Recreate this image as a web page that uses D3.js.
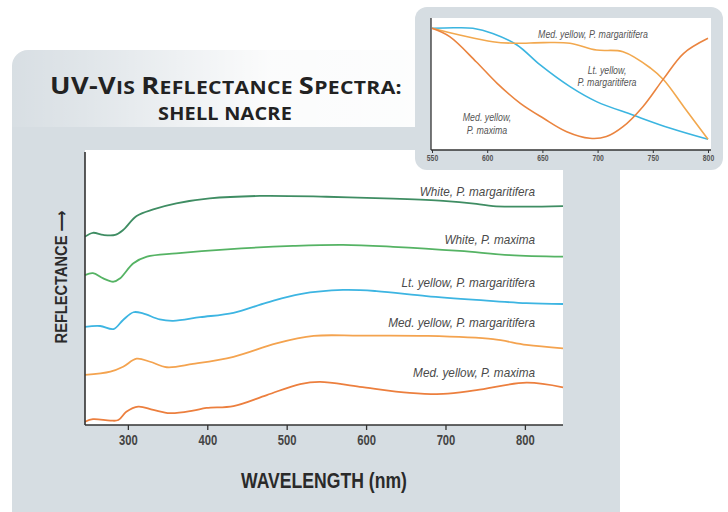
<!DOCTYPE html>
<html><head><meta charset="utf-8">
<script src="https://cdn.jsdelivr.net/npm/d3@7"></script>
<style>
html,body{margin:0;padding:0;background:#fff;}
svg{display:block;}
.narrow{font-family:"Liberation Sans",Arial,Helvetica,sans-serif;}
</style></head>
<body><svg id="c" width="728" height="512"></svg>
<script>
// ---- Main chart data (wavelength nm, relative reflectance, offset-stacked) ----
const seriesNames = ["White, P. margaritifera","White, P. maxima","Lt. yellow, P. margaritifera","Med. yellow, P. margaritifera","Med. yellow, P. maxima"];
const seriesColors = ["#3f8d63","#55b364","#3db5e2","#f4a34f","#ec7f3e"];
const whiteMargWl  = [246,256,269,284,294,311,332,361,403,466,550,634,697,739,760,802,848];
const whiteMargVal = [68.5,69.9,69.1,69.1,70.9,76.0,78.4,80.6,82.4,83.3,83.0,82.3,81.5,80.4,79.6,79.4,79.6];
const whiteMaxWl   = [246,256,269,282,290,307,324,361,425,508,571,634,718,781,848];
const whiteMaxVal  = [54.5,55.2,53.3,52.1,53.3,58.8,61.2,62.4,63.9,65.1,65.5,64.8,63.3,61.8,61.2];
const ltYelMargWl  = [246,265,282,294,307,319,340,357,391,433,475,517,571,613,676,739,802,848];
const ltYelMargVal = [35.7,36.0,34.9,38.2,41.0,40.6,38.4,37.9,39.2,40.8,44.5,47.6,49.1,48.7,46.9,45.5,44.3,44.0];
const medYelMargWl  = [246,278,294,311,328,349,382,433,487,534,592,676,760,802,848];
const medYelMargVal = [18.2,19.4,21.2,24.1,23.0,21.0,22.2,24.8,29.7,32.4,32.5,32.4,31.2,29.1,27.9];
const medYelMaxWl  = [246,256,278,288,298,313,332,353,382,399,433,475,517,542,592,655,697,739,802,848];
const medYelMaxVal = [1.2,2.1,1.6,1.8,4.8,6.7,5.5,4.3,5.2,6.2,6.9,10.9,14.9,15.7,13.9,11.7,11.3,12.7,15.4,13.7];
const xTicks = [300,400,500,600,700,800];

// ---- Inset data (normalized reflectance 550-800 nm) ----
const insetNames = ["Lt. yellow, P. margaritifera","Med. yellow, P. margaritifera","Med. yellow, P. maxima"];
const insetColors = ["#3bb5e0","#f2a84e","#ea843f"];
const insetLtWl  = [550,570,587,605,627,648,675,699,732,766,800];
const insetLtVal = [93.6,94.0,93.6,89.7,80.8,65.4,48.7,37.2,26.9,16.7,8.2];
const insetMedMargWl  = [550,575,605,624,651,675,699,723,748,760,778,800];
const insetMedMargVal = [93.6,88.5,83.3,82.1,82.6,82.1,76.9,75.6,63.0,53.8,33.3,8.2];
const insetMedMaxWl  = [550,566,590,609,630,651,672,693,708,723,741,760,778,800];
const insetMedMaxVal = [93.6,87.2,67.9,51.3,35.9,24.4,14.1,9.0,10.3,17.9,33.3,55.1,74.4,85.9];
const insetTicks = [550,600,650,700,750,800];

// title pieces: [text, isLargeCap]
const titleParts = [["UV-V",1],["IS ",0],["R",1],["EFLECTANCE ",0],["S",1],["PECTRA:",0]];
const subtitle = "SHELL NACRE";

const svg = d3.select("#c");
const defs = svg.append("defs");
const PANEL = "#d6dde2";

// horizontally condense a text to mimic a narrow typeface
function condense(sel, f){
  sel.each(function(){
    const w = this.getComputedTextLength();
    d3.select(this).attr("textLength", (w*f).toFixed(1)).attr("lengthAdjust","spacingAndGlyphs");
  });
  return sel;
}

// Main panel
svg.append("rect").attr("x",12).attr("y",50).attr("width",608).attr("height",480).attr("rx",16).attr("fill",PANEL);
const g1 = defs.append("linearGradient").attr("id","band").attr("x1","0").attr("x2","1").attr("y1","0").attr("y2","0");
g1.append("stop").attr("offset","0").attr("stop-color","#fff").attr("stop-opacity",0.05);
g1.append("stop").attr("offset","0.12").attr("stop-color","#fff").attr("stop-opacity",0.25);
g1.append("stop").attr("offset","0.42").attr("stop-color","#fff").attr("stop-opacity",0.9);
g1.append("stop").attr("offset","1").attr("stop-color","#fff").attr("stop-opacity",1);
defs.append("clipPath").attr("id","pclip").append("rect").attr("x",12).attr("y",50).attr("width",608).attr("height",480).attr("rx",16);
svg.append("rect").attr("x",12).attr("y",50).attr("width",608).attr("height",77).attr("fill","url(#band)").attr("clip-path","url(#pclip)");

// Title
const t1 = svg.append("text").attr("x",50).attr("y",94).attr("fill","#222")
  .style("font-family","'Open Sans', Lato, sans-serif").style("font-weight","700")
  .style("letter-spacing","0.3px");
titleParts.forEach(p=>{
  t1.append("tspan").style("font-size", p[1] ? "22.5px" : "17.5px").text(p[0]);
});
t1.attr("textLength",352).attr("lengthAdjust","spacingAndGlyphs");
const t2 = svg.append("text").attr("x",158).attr("y",119.5).attr("fill","#222")
  .style("font-family","'Open Sans', Lato, sans-serif").style("font-weight","700")
  .style("font-size","17.5px").style("letter-spacing","0.2px").text(subtitle);
t2.attr("textLength",134).attr("lengthAdjust","spacingAndGlyphs");

// Main plot
const L=85, R=563, T=150, B=425;
svg.append("rect").attr("x",L).attr("y",T).attr("width",R-L).attr("height",B-T).attr("fill","#fff");
const x = d3.scaleLinear().domain([246,848]).range([L,R]);
const y = d3.scaleLinear().domain([0,100]).range([B,T]);
const line = d3.line().curve(d3.curveCatmullRom.alpha(0.5)).x(d=>x(d[0])).y(d=>y(d[1]));
const mainSeries = [
  [whiteMargWl, whiteMargVal],[whiteMaxWl, whiteMaxVal],[ltYelMargWl, ltYelMargVal],
  [medYelMargWl, medYelMargVal],[medYelMaxWl, medYelMaxVal]];
mainSeries.forEach((s,i)=>{
  const pts = s[0].map((w,j)=>[w,s[1][j]]);
  svg.append("path").datum(pts).attr("d",line).attr("fill","none")
    .attr("stroke",seriesColors[i]).attr("stroke-width",1.8);
});
const labelY = [196,244,287,327,377];
seriesNames.forEach((n,i)=>{
  const t = svg.append("text").attr("class","narrow").attr("x",535).attr("y",labelY[i]).attr("text-anchor","end")
    .attr("fill","#4a4a4a").style("font-style","italic").style("font-size","13.5px").text(n);
  condense(t,0.87);
});
// axes
const xAxis = svg.append("g").attr("transform",`translate(0,${B})`)
  .call(d3.axisBottom(x).tickValues(xTicks).tickSize(5).tickPadding(5).tickFormat(d3.format("d")));
xAxis.select(".domain").remove();
xAxis.attr("font-family",null);
xAxis.selectAll("line").attr("stroke","#333").attr("stroke-width",1.3);
xAxis.selectAll("text").attr("class","narrow").attr("fill","#444").style("font-size","14px").style("font-weight","700");
condense(xAxis.selectAll("text"),0.8);
svg.append("line").attr("x1",L).attr("x2",R).attr("y1",B).attr("y2",B).attr("stroke","#333").attr("stroke-width",1.6);
svg.append("line").attr("x1",L).attr("x2",L).attr("y1",T+2).attr("y2",B).attr("stroke","#333").attr("stroke-width",1.6);
condense(svg.append("text").attr("class","narrow").attr("x",(L+R)/2).attr("y",488).attr("text-anchor","middle")
  .attr("fill","#2a2a2a").style("font-size","22px").style("font-weight","700").text("WAVELENGTH (nm)"),0.8);
const ylab = svg.append("text").attr("class","narrow").attr("transform","translate(67,277) rotate(-90)").attr("text-anchor","middle")
  .attr("fill","#2a2a2a").style("font-size","17px").style("font-weight","700");
ylab.append("tspan").text("REFLECTANCE ");
ylab.append("tspan").style("font-family","'DejaVu Sans',sans-serif").style("font-size","17px").text("\u27F6");
condense(ylab,0.86);

// Inset
svg.append("rect").attr("x",415).attr("y",7).attr("width",308).attr("height",163).attr("rx",12).attr("fill",PANEL);
const iL=431, iR=711, iT=18, iB=150;
svg.append("rect").attr("x",iL).attr("y",iT).attr("width",iR-iL).attr("height",iB-iT).attr("fill","#fff");
const xi = d3.scaleLinear().domain([550,800]).range([432,708]);
const yi = d3.scaleLinear().domain([0,100]).range([150,20]);
const iline = d3.line().curve(d3.curveCatmullRom.alpha(0.5)).x(d=>xi(d[0])).y(d=>yi(d[1]));
const insetSeries = [[insetLtWl,insetLtVal],[insetMedMargWl,insetMedMargVal],[insetMedMaxWl,insetMedMaxVal]];
insetSeries.forEach((s,i)=>{
  const pts = s[0].map((w,j)=>[w,s[1][j]]);
  svg.append("path").datum(pts).attr("d",iline).attr("fill","none")
    .attr("stroke",insetColors[i]).attr("stroke-width",1.6);
});
const iax = svg.append("g").attr("transform",`translate(0,${iB})`)
  .call(d3.axisBottom(xi).tickValues(insetTicks).tickSize(3).tickPadding(2).tickFormat(d3.format("d")));
iax.select(".domain").remove();
iax.selectAll("line").attr("stroke","#333");
iax.attr("font-family",null);
iax.selectAll("text").attr("class","narrow").attr("fill","#555").style("font-size","8.5px").style("font-weight","700");
condense(iax.selectAll("text"),0.8);
svg.append("line").attr("x1",iL).attr("x2",iR).attr("y1",iB).attr("y2",iB).attr("stroke","#333").attr("stroke-width",1.3);
svg.append("line").attr("x1",iL).attr("x2",iL).attr("y1",iT).attr("y2",iB).attr("stroke","#333").attr("stroke-width",1.3);
const insetLabels = [
  {t:"Med. yellow, P. margaritifera", x:593, y:38},
  {t:"Lt. yellow,", x:607, y:74},
  {t:"P. margaritifera", x:607, y:86},
  {t:"Med. yellow,", x:487, y:121},
  {t:"P. maxima", x:487, y:134}];
insetLabels.forEach(d=>{
  const t = svg.append("text").attr("class","narrow").attr("x",d.x).attr("y",d.y).attr("text-anchor","middle")
    .attr("fill","#555").style("font-style","italic").style("font-size","10px").text(d.t);
  condense(t,0.88);
});
</script></body></html>
